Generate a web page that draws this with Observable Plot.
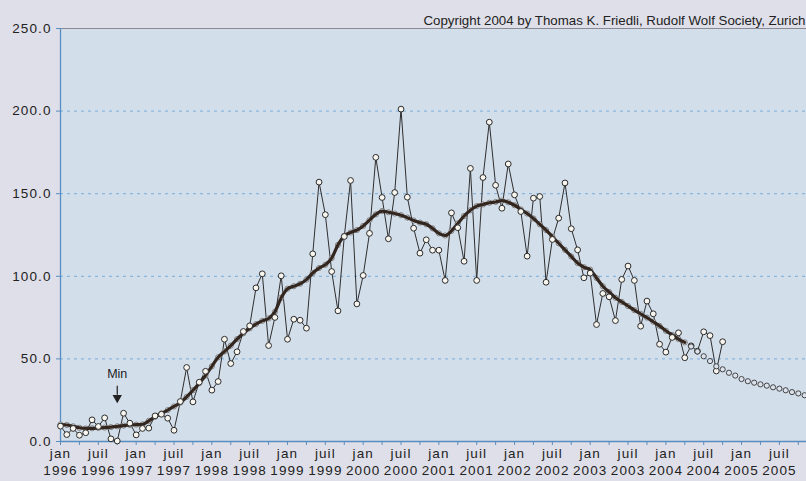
<!DOCTYPE html>
<html>
<head>
<meta charset="utf-8">
<script src="https://cdn.jsdelivr.net/npm/d3@7"></script>
<script src="https://cdn.jsdelivr.net/npm/@observablehq/plot@0.6"></script>
<style>
  html, body { margin: 0; padding: 0; background: #dfdfe9; }
  #chart { width: 806px; height: 481px; overflow: hidden; }
</style>
</head>
<body>
<div id="chart"></div>
<script>
// ---- data ----
const startYear = 1996;
const halfYearNames = ["jan", "juil"];
const copyright = "Copyright 2004 by Thomas K. Friedli, Rudolf Wolf Society, Zurich";
const minEvent = { month: 9, label: "Min" };

// monthly Wolf numbers, Jan 1996 .. Oct 2004
const observed = [
  9.3, 4.2, 7.9, 3.8, 5.3, 13.1, 9.1, 14.3, 1.6, 0.3, 17.1, 11.1,
  4.0, 7.9, 8.1, 15.5, 16.5, 14.1, 6.8, 24.2, 44.8, 24.0, 35.9, 42.5,
  31.1, 36.3, 61.9, 47.2, 54.3, 66.6, 70.0, 93.0, 101.5, 58.1, 75.1, 100.3,
  61.9, 74.0, 73.4, 68.6, 113.6, 157.0, 137.3, 102.9, 79.1, 124.1, 158.0, 83.3,
  100.5, 126.0, 172.0, 147.7, 122.7, 150.7, 201.2, 147.9, 129.1, 114.0, 122.1, 115.8,
  115.8, 97.5, 138.4, 129.4, 109.1, 165.3, 97.5, 159.8, 193.3, 155.1, 141.2, 168.0,
  149.3, 139.2, 112.2, 147.3, 148.3, 96.4, 122.3, 135.2, 156.5, 128.8, 116.0, 99.1,
  101.9, 70.8, 89.6, 87.6, 73.2, 98.1, 106.2, 97.5, 69.8, 85.0, 77.3, 58.9,
  54.1, 63.0, 65.8, 50.7, 57.9, 54.7, 66.4, 64.1, 42.7, 60.4
];

// 13-month smoothed values, Jan 1996 .. Apr 2004
const smoothed = [
  10.3, 10.0, 9.2, 8.3, 7.9, 8.0, 8.2, 8.4, 8.7, 9.2, 9.6, 10.0,
  10.2, 10.4, 12.5, 15.0, 17.0, 19.0, 21.2, 23.5, 27.0, 31.0, 35.3, 40.0,
  45.5, 51.0, 54.5, 58.0, 62.0, 65.5, 68.5, 71.0, 73.0, 74.5, 78.5, 87.0,
  92.5, 94.0, 95.5, 98.0, 102.0, 105.0, 107.0, 111.0, 119.0, 124.5, 126.5, 128.0,
  130.5, 134.0, 137.5, 139.5, 138.8, 138.0, 137.0, 135.5, 133.8, 132.5, 131.5, 129.0,
  126.0, 124.7, 127.5, 132.0, 136.5, 140.0, 142.5, 143.5, 144.5, 145.0, 145.8, 144.8,
  143.0, 140.5, 138.0, 135.0, 131.5, 128.0, 124.0, 120.0, 116.0, 112.0, 108.0, 105.5,
  104.0, 99.0, 94.0, 90.5, 87.0, 84.5, 82.0, 79.5, 77.3, 75.0, 72.5, 70.0,
  67.0, 64.5, 62.0, 60.0
];

// predicted smoothed values, May 2004 .. Nov 2005
const predictedStart = 100;
const predicted = [
  57.5, 54.5, 51.6, 48.7, 45.5, 43.7, 41.6, 39.9, 37.8, 36.5, 35.6, 34.6,
  33.8, 32.8, 32.0, 31.0, 29.9, 29.1, 28.0
];

const yTicks = [0, 50, 100, 150, 200, 250];
const gridValues = [50, 100, 150, 200];
const labelMonths = d3.range(0, 115, 6);
const quarterMonths = d3.range(0, 119, 3);

// ---- tables ----
const obsData = observed.map((v, i) => ({ m: i, v }));
const smoothData = smoothed.map((v, i) => ({ m: i, v }));
const predData = predicted.map((v, i) => ({ m: predictedStart + i, v }));

const axisBlue = "#5a8dbf";
const font = "'Liberation Sans', Arial, Helvetica, sans-serif";

const plot = Plot.plot({
  width: 806,
  height: 481,
  marginTop: 28,
  marginLeft: 60,
  marginRight: 0,
  marginBottom: 40,
  style: { background: "#dfdfe9", fontFamily: font, color: "#222", overflow: "hidden" },
  x: { domain: [0, 118.3], axis: null },
  y: { domain: [0, 250], axis: null },
  marks: [
    Plot.frame({ fill: "#d3deeb", stroke: "none" }),
    Plot.gridY(gridValues, { stroke: "#7aaedc", strokeOpacity: 1, strokeDasharray: "3,4" }),
    Plot.ruleY([250], { stroke: "#8a8a94", strokeWidth: 1.2 }),
    Plot.axisX({ ticks: quarterMonths, tickSize: 4, tickFormat: () => "", stroke: axisBlue, label: null }),
    Plot.axisX({
      ticks: labelMonths, tickSize: 0, tickPadding: 5, label: null,
      tickFormat: m => `${halfYearNames[(m % 12) / 6]}\n${startYear + Math.floor(m / 12)}`,
      fontSize: 13.5, lineHeight: 1.25, fill: "#222"
    }),
    Plot.axisY({
      ticks: yTicks, tickSize: 4, tickPadding: 5, label: null,
      tickFormat: d => d.toFixed(1), stroke: axisBlue, fill: "#222", fontSize: 13.5
    }),
    Plot.ruleX([0], { stroke: axisBlue, strokeWidth: 1.3 }),
    Plot.ruleY([0], { stroke: axisBlue, strokeWidth: 1.3 }),
    // observed monthly values
    Plot.line(obsData, { x: "m", y: "v", stroke: "#2e2e2e", strokeWidth: 1 }),
    // smoothed
    Plot.dot(smoothData, { x: "m", y: "v", r: 2.6, fill: "#e6e9ee", stroke: "#6a6a6a", strokeWidth: 0.8 }),
    Plot.line(smoothData, { x: "m", y: "v", stroke: "#33261f", strokeWidth: 3.2, curve: "monotone-x" }),
    Plot.dot(obsData, { x: "m", y: "v", r: 2.9, fill: "#f8f6ef", stroke: "#2a2a2a", strokeWidth: 1 }),
    // predicted
    Plot.dot(predData, { x: "m", y: "v", r: 2.6, fill: "#dbe2ec", stroke: "#333", strokeWidth: 0.9 }),
    // Min annotation
    Plot.ruleX([minEvent], { x: "month", y1: 33.5, y2: 28, stroke: "#222", strokeWidth: 1.2 }),
    Plot.dot([minEvent], { x: "month", y: 26.5, symbol: "triangle", rotate: 180, r: 3.5, fill: "#222", stroke: "none" }),
    Plot.text([minEvent], { x: "month", y: 41, text: "label", fontSize: 12.5, fill: "#222" }),
    // copyright
    Plot.text([copyright], { frameAnchor: "top-right", dy: -13, dx: -1, textAnchor: "end", fontSize: 13.3, fill: "#222" })
  ]
});

// letter spacing for tick labels like the reference
d3.select(plot).selectAll('g[aria-label="x-axis tick label"] text, g[aria-label="y-axis tick label"] text')
  .attr("letter-spacing", "1.1px");

document.getElementById("chart").appendChild(plot);
</script>
</body>
</html>
